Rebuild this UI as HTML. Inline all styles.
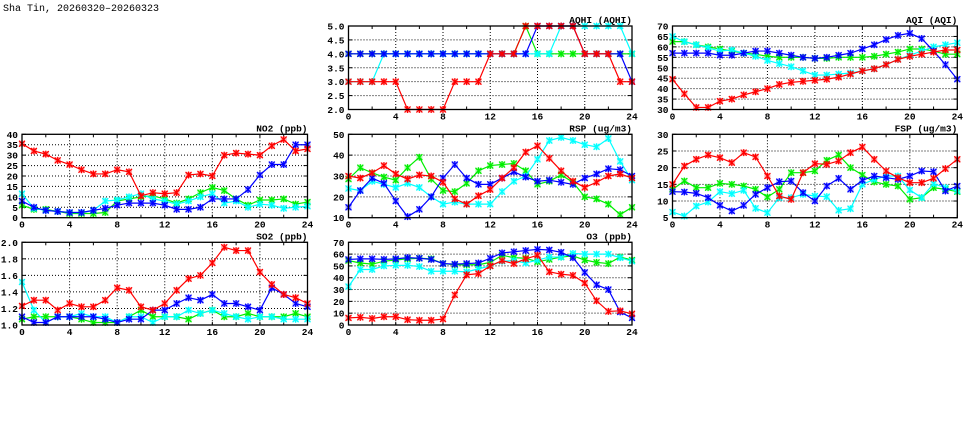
<!DOCTYPE html>
<html><head><meta charset="utf-8"><style>
html,body{margin:0;padding:0;background:#fff;width:975px;height:447px;overflow:hidden}
svg{display:block}
text{font-family:"Liberation Mono",monospace;font-weight:bold;font-size:9.5px;fill:#000}
</style></head><body>
<svg id="s" width="975" height="447" xmlns="http://www.w3.org/2000/svg">
<text x="3" y="11" style="font-weight:normal;font-size:10px">Sha Tin, 20260320–20260323</text>
</svg>
<script>
const S=document.getElementById('s');const NS='http://www.w3.org/2000/svg';
function el(t,a,txt){const e=document.createElementNS(NS,t);for(const k in a)e.setAttribute(k,a[k]);if(txt!==undefined)e.textContent=txt;S.appendChild(e);return e;}
const C={r:'#ff0000',g:'#00ee00',b:'#0000ff',c:'#00ffff'};
function panel(x0,x1,y0,y1,ymin,ymax,step,dec,title,data){
  const X=h=>x0+(x1-x0)*h/24, Y=v=>y1-(y1-y0)*(v-ymin)/(ymax-ymin);
  for(let v=ymin;v<=ymax+1e-9;v+=step){const y=Y(v);
    if(v>ymin+1e-9&&v<ymax-1e-9)el('line',{x1:x0,x2:x1,y1:y,y2:y,stroke:'#000','stroke-width':1,'stroke-dasharray':'1,2'});
    el('line',{x1:x0,x2:x0+4,y1:y,y2:y,stroke:'#000'});el('line',{x1:x1-4,x2:x1,y1:y,y2:y,stroke:'#000'});
    el('text',{x:x0-4,y:y+3.5,'text-anchor':'end'},v.toFixed(dec));}
  for(let h=0;h<=24;h+=2){const x=X(h);
    if(h%4==0&&h>0&&h<24)el('line',{x1:x,x2:x,y1:y0,y2:y1,stroke:'#000','stroke-dasharray':'1,2'});
    el('line',{x1:x,x2:x,y1:y1,y2:y1-3,stroke:'#000'});el('line',{x1:x,x2:x,y1:y0,y2:y0+3,stroke:'#000'});
    if(h%4==0)el('text',{x:x,y:y1+10,'text-anchor':'middle'},h);}
  el('text',{x:x1,y:y0-3,'text-anchor':'end'},title);
  for(const k of ['g','c','b','r']){const d=data[k];if(!d)continue;const col=C[k];
    el('polyline',{points:d.map((v,i)=>X(i)+','+Y(v)).join(' '),fill:'none',stroke:col,'stroke-width':1.2});
    d.forEach((v,i)=>{const x=X(i),y=Y(v);
      el('rect',{x:x-3,y:y-3,width:6,height:6,fill:col,'fill-opacity':0.35});
      el('path',{d:`M${x-3} ${y-3}L${x+3} ${y+3}M${x-3} ${y+3}L${x+3} ${y-3}M${x} ${y-3.5}V${y+3.5}`,stroke:col,'stroke-width':1.2});});}
  el('rect',{x:x0,y:y0,width:x1-x0,height:y1-y0,fill:'none',stroke:'#000','stroke-width':1.3});
}
const R1=[26,109.5],R2=[134.3,217.7],R3=[242.3,325];
const A=[22,307.5],B=[348.5,632],Cc=[672.5,957.3];
panel(B[0],B[1],R1[0],R1[1],2,5,0.5,1,'AQHI (AQHI)',{
 r:[3,3,3,3,3,2,2,2,2,3,3,3,4,4,4,5,5,5,5,5,4,4,4,3,3],
 b:[4,4,4,4,4,4,4,4,4,4,4,4,4,4,4,4,5,5,5,5,4,4,4,4,3],
 g:[4,4,4,4,4,4,4,4,4,4,4,4,4,4,4,5,4,4,4,4,4,4,4,4,4],
 c:[3,3,3,4,4,4,4,4,4,4,4,4,4,4,4,4,4,4,5,5,5,5,5,5,4]});
panel(Cc[0],Cc[1],R1[0],R1[1],30,70,5,0,'AQI (AQI)',{
 r:[44.5,37.5,31,31,34,35,37,38.5,40,42,43,43.5,44,44.5,45.5,47,48.5,49.5,51.5,54,55.5,56.5,57.5,58.5,58.5],
 b:[57,57,57,57,56,56,57,58,58,57,56,55,54.5,55,56,57,59,61,63.5,65.5,66.5,64,58,51.5,44.5],
 g:[62.5,62.5,61,60,59,58,57,56.5,55.5,55,55,55,54.5,54.5,55,55,55,55.5,56.5,57.5,59,59,58,56.5,56.5],
 c:[65,62.5,61,59.5,58,58.5,57,55.5,53.5,52,50.5,48.5,46.5,46.5,47,47.5,48.5,49.5,51.5,54,56,58,60,61,62]});
panel(A[0],A[1],R2[0],R2[1],0,40,5,0,'NO2 (ppb)',{
 r:[35.5,32,30.5,27.5,25.5,23,21,21,23,22,10.5,12,11.5,12,20.5,21,20,30,31,30.5,30,34.5,37.5,32,33],
 b:[8,5,3.5,3,2.5,2.5,3.5,4.5,6,7,7,7,6,4,4,5,9,9,9,13.5,20.5,25.5,25.5,35,35],
 g:[6,4,4,3,2,2,2,2.5,8,9,10,10.5,9,7,9,12,14.5,13,9,6,8.5,8.5,9,6.5,7.5],
 c:[11.5,4.5,3.5,3,2.5,2.5,3.5,8,8.5,10,11.5,9,8,6.5,8,10,11.5,7,8,5,6.5,6,4.5,5,5.5]});
panel(B[0],B[1],R2[0],R2[1],10,50,10,0,'RSP (ug/m3)',{
 r:[30,29,31.5,35,31,28.5,30.5,30,27,19,16.5,20.5,23.5,29,34,41.5,44.5,38.5,32.5,27.5,24.5,27,30,31,29],
 b:[15,23,29,26.5,18,10.5,14,20,29,35.5,29,26,26,29,32,29.5,27.5,28,27,26,29,31,33.5,33,30],
 g:[28.5,34,31.5,29.5,28,34,39,28.5,23,22.5,26.5,32.5,35,35.5,36,32.5,26,27.5,30.5,27,20,19,16.5,11.5,15],
 c:[24,23,27.5,26,24.5,26.5,24.5,20,16.5,17.5,16.5,16.5,16.5,22.5,27.5,30,38,47,48.5,47,45,44,48,37,28]});
panel(Cc[0],Cc[1],R2[0],R2[1],5,30,5,0,'FSP (ug/m3)',{
 r:[15,20.5,22.5,23.8,23,21.5,24.5,23.2,17.5,11.5,10.5,18.5,21.2,21,22,24.5,26.2,22.5,19,17,15.5,15.5,16.8,19.7,22.5],
 b:[12.8,12.7,12.3,11,8.7,7,8.7,12,14,15.8,16,12.5,10,14.5,16.8,13.5,16.2,17.5,17,16.5,17.5,19,18.8,13,14.5],
 g:[13.5,16,14,14,15.3,15,14.5,13.5,11.2,13.5,18.5,18.5,19,22.2,23.8,20,17.8,15.7,15,14.5,10.5,11,14,13.5,12.8],
 c:[6.7,5.5,8.5,9.7,12.8,12.2,13.2,7.8,6.5,11,11,12,11.5,11.3,7.2,7.7,15,16.5,17.5,17.5,13.3,11,15.2,14,13]});
panel(A[0],A[1],R3[0],R3[1],1,2,0.2,1,'SO2 (ppb)',{
 r:[1.23,1.3,1.3,1.18,1.26,1.22,1.22,1.3,1.45,1.42,1.22,1.18,1.26,1.42,1.56,1.6,1.75,1.94,1.9,1.9,1.64,1.49,1.37,1.33,1.26],
 b:[1.1,1.03,1.03,1.1,1.1,1.1,1.1,1.07,1.03,1.07,1.07,1.18,1.18,1.26,1.33,1.3,1.37,1.26,1.26,1.22,1.18,1.45,1.37,1.26,1.22],
 g:[1.07,1.1,1.1,1.1,1.1,1.07,1.03,1.03,1.03,1.1,1.18,1.1,1.1,1.1,1.07,1.14,1.18,1.1,1.1,1.14,1.1,1.1,1.1,1.14,1.1],
 c:[1.52,1.18,1.03,1.1,1.1,1.14,1.1,1.1,1.03,1.1,1.1,1.03,1.1,1.1,1.18,1.14,1.18,1.14,1.1,1.07,1.1,1.1,1.07,1.07,1.07]});
panel(B[0],B[1],R3[0],R3[1],0,70,10,0,'O3 (ppb)',{
 r:[6,6.5,5.5,7,7,4.5,4,4,5,25.5,42.5,43.5,50,54.5,52,56,59,45,43,42,35.5,20.5,11.5,12,9.5],
 b:[55.5,56,56,55.5,56,57,56.5,55.5,52,51.5,52,52.5,56.5,61,62,63,64,63.5,61.5,57,44.5,34,30,11,6],
 g:[54.5,52.5,51.5,54,55,56,56.5,56,52,51,51,51,53,59,57,56.5,53.5,55.5,57.5,58.5,55,53,52,57.5,55],
 c:[32.5,47,47,50,50.5,50.5,49.5,45.5,45.5,45.5,45,47.5,50,54,54.5,52.5,55,57.5,57.5,60.5,60,60,60,57,54]});
</script>
</body></html>
